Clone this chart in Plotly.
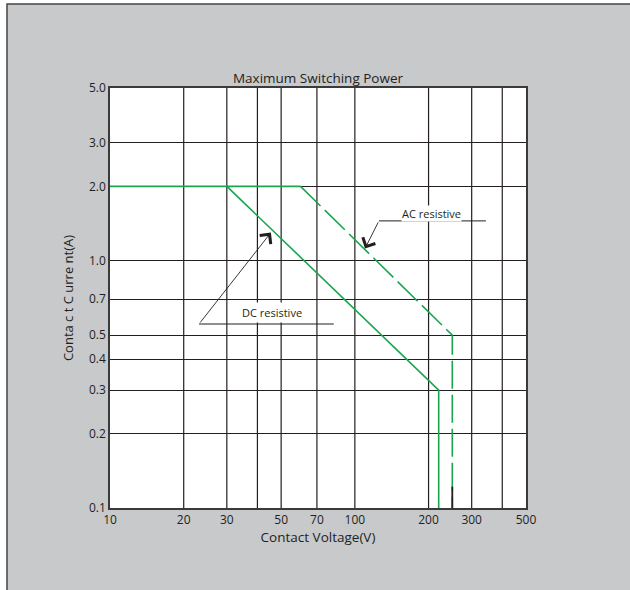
import math
import plotly.graph_objects as go

# ---- data ----
x_tick_vals = [10, 20, 30, 50, 70, 100, 200, 300, 500]
x_tick_text = ["10", "20", "30", "50", "70", "100", "200", "300", "500"]
x_grid_vals = [20, 30, 40, 50, 70, 100, 200, 300, 400]
y_tick_vals = [0.1, 0.2, 0.3, 0.4, 0.5, 0.7, 1.0, 2.0, 3.0, 5.0]
y_tick_text = ["0.1", "0.2", "0.3", "0.4", "0.5", "0.7", "1.0", "2.0", "3.0", "5.0"]

dc_voltage = [10, 30, 220, 220]
dc_current = [2.0, 2.0, 0.3, 0.1]

ac_flat_voltage = [30, 60]
ac_flat_current = [2.0, 2.0]
ac_voltage = [60, 250, 250]
ac_current = [2.0, 0.5, 0.1]
ac_tail_voltage = [250, 250]
ac_tail_current = [0.1, 0.122]

# annotation anchor points (data units)
dc_label = (45.9, 0.618)
dc_leader_x = [82, 23.1]
dc_leader_y = [0.555, 0.555]
dc_arrow_tip = (45.4, 1.30)
ac_label = (206, 1.547)
ac_leader_x = [343, 125.4]
ac_leader_y = [1.45, 1.45]
ac_arrow_tip = (110, 1.12)

GREEN = "#1aa650"
DARK = "#231f20"
FONT = "Open Sans"

fig = go.Figure()

fig.add_trace(go.Scatter(x=dc_voltage, y=dc_current, mode="lines",
                         line=dict(color=GREEN, width=1.6), hoverinfo="skip"))
fig.add_trace(go.Scatter(x=ac_flat_voltage, y=ac_flat_current, mode="lines",
                         line=dict(color=GREEN, width=1.6), hoverinfo="skip"))
fig.add_trace(go.Scatter(x=ac_voltage, y=ac_current, mode="lines",
                         line=dict(color=GREEN, width=1.6, dash="28px,6px"),
                         hoverinfo="skip"))
fig.add_trace(go.Scatter(x=ac_tail_voltage, y=ac_tail_current, mode="lines",
                         line=dict(color=DARK, width=1.8), hoverinfo="skip"))
fig.add_trace(go.Scatter(x=dc_leader_x, y=dc_leader_y, mode="lines",
                         line=dict(color=DARK, width=1), hoverinfo="skip"))
fig.add_trace(go.Scatter(x=ac_leader_x, y=ac_leader_y, mode="lines",
                         line=dict(color=DARK, width=1), hoverinfo="skip"))

L = math.log10
annotations = [
    dict(x=L(dc_label[0]), y=L(dc_label[1]), xref="x", yref="y",
         text="DC resistive", showarrow=False, bgcolor="white", borderpad=2,
         font=dict(family=FONT, size=11, color=DARK)),
    dict(x=L(ac_label[0]), y=L(ac_label[1]), xref="x", yref="y",
         text="AC resistive", showarrow=False, bgcolor="white", borderpad=0,
         font=dict(family=FONT, size=11, color=DARK)),
    dict(x=L(dc_arrow_tip[0]), y=L(dc_arrow_tip[1]), xref="x", yref="y",
         ax=L(dc_leader_x[1]), ay=L(dc_leader_y[1]), axref="x", ayref="y",
         text="", showarrow=True, arrowhead=4, arrowsize=3.0, arrowwidth=0.9,
         arrowcolor=DARK),
    dict(x=L(ac_arrow_tip[0]), y=L(ac_arrow_tip[1]), xref="x", yref="y",
         ax=L(ac_leader_x[1]), ay=L(ac_leader_y[1]), axref="x", ayref="y",
         text="", showarrow=True, arrowhead=4, arrowsize=3.0, arrowwidth=0.9,
         arrowcolor=DARK),
]

shapes = [
    dict(type="rect", xref="paper", yref="paper",
         x0=-0.2476, x1=1.4, y0=-0.3, y1=1.2,
         fillcolor="#c8c9cb", line=dict(color="#444444", width=1.5),
         layer="below"),
    dict(type="rect", xref="paper", yref="paper", x0=0, x1=1, y0=0, y1=1,
         fillcolor="white", line=dict(width=0), layer="below"),
]

fig.update_layout(
    width=630, height=590,
    margin=dict(l=110, r=104, t=88, b=82),
    paper_bgcolor="white", plot_bgcolor="white",
    showlegend=False,
    shapes=shapes,
    annotations=annotations,
    title=dict(text="Maximum Switching Power", x=0.5, xref="paper",
               y=1, yref="paper", yanchor="bottom", pad=dict(b=5),
               font=dict(family=FONT, size=13.5, color=DARK)),
    font=dict(family=FONT, size=12, color=DARK),
)

fig.update_xaxes(type="log", range=[L(10), L(500)],
                 tickvals=x_tick_vals, ticktext=x_tick_text,
                 showgrid=False, ticks="", ticklen=0,
                 showline=True, mirror=True, linecolor="#3a3a3a", linewidth=1.6,
                 zeroline=False,
                 title=dict(text="Contact Voltage(V)", standoff=0,
                            font=dict(family=FONT, size=13.5, color=DARK)),
                 tickfont=dict(family=FONT, size=12, color=DARK))
fig.update_yaxes(type="log", range=[L(0.1), L(5.0)],
                 tickvals=y_tick_vals, ticktext=y_tick_text,
                 showgrid=True, gridcolor=DARK, gridwidth=1.2,
                 ticks="", showline=True, mirror=True, linecolor="#3a3a3a",
                 linewidth=1.6, zeroline=False,
                 title=dict(text="Conta c t C urre nt(A)", standoff=12,
                            font=dict(family=FONT, size=13, color=DARK)),
                 tickfont=dict(family=FONT, size=12, color=DARK))

# vertical grid lines (includes 40 and 400, which carry no labels)
for gx in x_grid_vals:
    fig.add_shape(type="line", xref="x", yref="paper", x0=gx, x1=gx, y0=0, y1=1,
                  line=dict(color=DARK, width=1.2), layer="below")

fig.write_html(
    "out.html",
    config={"displayModeBar": False},
    post_script="document.body.style.margin='0';document.body.style.overflow='hidden';",
)
